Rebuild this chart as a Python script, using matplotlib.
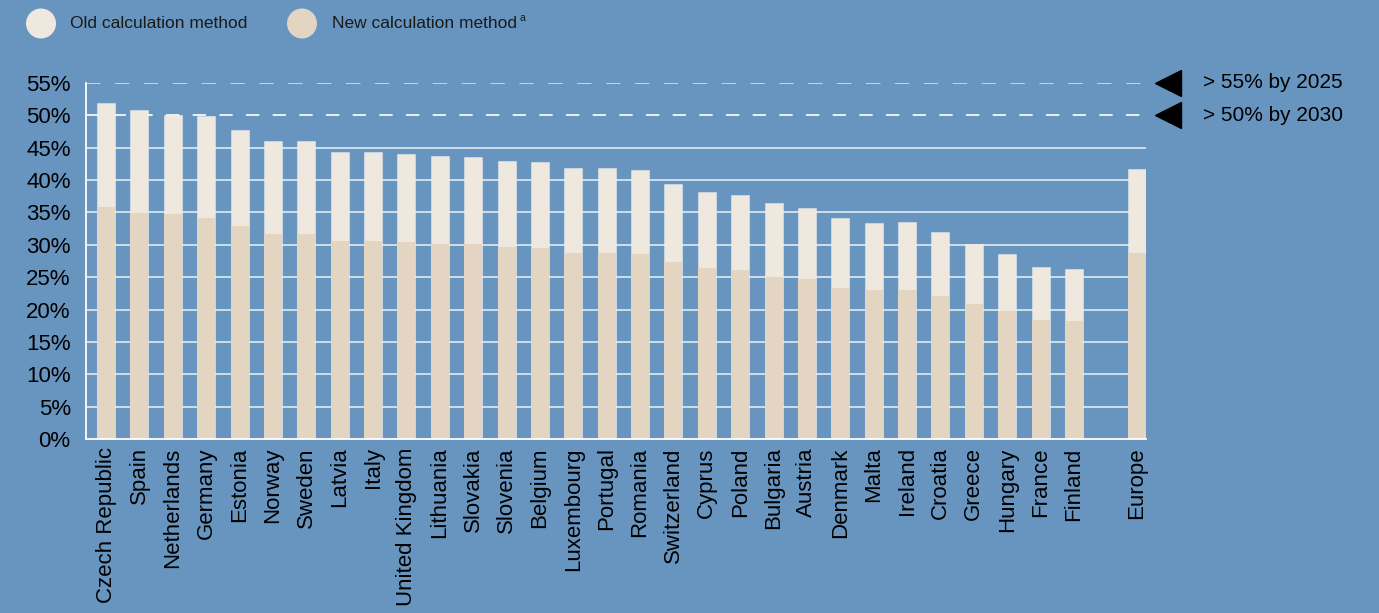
import matplotlib
matplotlib.use("Agg")
import matplotlib.pyplot as plt
import numpy as np
from matplotlib.patches import Ellipse
from matplotlib.transforms import blended_transform_factory

plt.rcParams['font.family'] = ['Liberation Sans', 'DejaVu Sans']

countries = ["Czech Republic", "Spain", "Netherlands", "Germany", "Estonia", "Norway",
             "Sweden", "Latvia", "Italy", "United Kingdom", "Lithuania", "Slovakia",
             "Slovenia", "Belgium", "Luxembourg", "Portugal", "Romania", "Switzerland",
             "Cyprus", "Poland", "Bulgaria", "Austria", "Denmark", "Malta", "Ireland",
             "Croatia", "Greece", "Hungary", "France", "Finland", "Europe"]
old_method = [51.9, 50.8, 50.0, 49.9, 47.7, 46.1, 46.1, 44.4, 44.3, 44.1, 43.7, 43.5,
              43.0, 42.8, 41.9, 41.9, 41.5, 39.4, 38.1, 37.7, 36.4, 35.7, 34.1, 33.4,
              33.5, 32.0, 30.2, 28.6, 26.6, 26.3, 41.7]
new_method = [35.9, 34.9, 34.7, 34.1, 32.9, 31.7, 31.7, 30.6, 30.6, 30.4, 30.2, 30.1,
              29.7, 29.5, 28.8, 28.8, 28.6, 27.3, 26.4, 26.1, 25.0, 24.7, 23.4, 23.0,
              23.0, 22.1, 20.9, 19.8, 18.4, 18.2, 28.8]
yticks = [0, 5, 10, 15, 20, 25, 30, 35, 40, 45, 50, 55]
targets = [55, 50]
target_labels = ["> 55% by 2025", "> 50% by 2030"]
legend_labels = ["Old calculation method", "New calculation method"]

BG = "#6895bf"
OLD_C = "#efe8de"
NEW_C = "#e3d5c2"

fig = plt.figure(figsize=(13.79, 6.13), dpi=100)
fig.patch.set_facecolor(BG)
ax = fig.add_axes([86/1379, 1-439/613, (1146-86)/1379, (439-83)/613])
ax.set_facecolor(BG)

x = np.arange(len(countries), dtype=float)
x[-1] = x[-2] + 1.89

w = 0.54
ax.bar(x, old_method, width=w, color=OLD_C, edgecolor=(1, 1, 1, 0.35), linewidth=0.8, zorder=3)
ax.bar(x, new_method, width=w, color=NEW_C, linewidth=0, zorder=4)

for t in yticks:
    if t == 0 or t in targets:
        continue
    ax.axhline(t, color=(1, 1, 1, 0.8), lw=1.2, zorder=1)
ax.axhline(55, color=(1, 1, 1, 0.65), lw=1.3, dashes=(8, 8), zorder=1)
ax.axhline(50, color="white", lw=1.2, dashes=(8, 8), zorder=1)

ax.set_xlim(-0.6, x[-1] + 0.27)
ax.set_ylim(0, 55)
ax.set_yticks(yticks)
ax.set_yticklabels([f"{t}%" for t in yticks], fontsize=16, color="black")
ax.set_xticks(x)
ax.set_xticklabels(countries, rotation=90, fontsize=16, color="black")
ax.tick_params(axis='both', length=0)
ax.tick_params(axis='y', pad=11)
ax.tick_params(axis='x', pad=6)
for s in ["top", "right"]:
    ax.spines[s].set_visible(False)
for s in ["left", "bottom"]:
    ax.spines[s].set_color("white")
    ax.spines[s].set_linewidth(1.3)
    ax.spines[s].set_zorder(5)

tr = blended_transform_factory(ax.transAxes, ax.transData)
for val, lab in zip(targets, target_labels):
    ax.plot([1.0208], [val], marker="<", markersize=19, color="black", transform=tr, clip_on=False)
    ax.text(1.0538, val, lab, transform=tr, fontsize=15, va="center", ha="left", color="black")

# Legend
texts = []
for cx, col, lab, tx in [(41, OLD_C, legend_labels[0], 70), (302, NEW_C, legend_labels[1], 332)]:
    fig.add_artist(Ellipse((cx/1379, 1-23.5/613), 30/1379, 30/613, transform=fig.transFigure,
                           facecolor=col, edgecolor="none"))
    texts.append(fig.text(tx/1379, 1-23.5/613, lab, fontsize=12.5, va="center", ha="left", color="#1a1a1a"))

fig.canvas.draw()
bb = texts[1].get_window_extent()
fig.text((bb.x1 + 2)/1379, 1-18/613, "a", fontsize=7.5, va="center", ha="left", color="#1a1a1a")

fig.savefig("out.png", dpi=100, facecolor=BG)
